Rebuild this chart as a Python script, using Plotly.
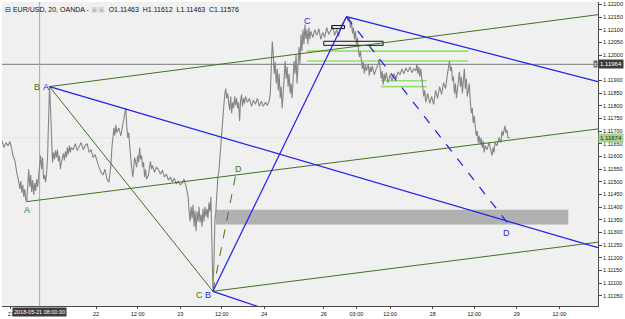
import plotly.graph_objects as go

# ---------------- data ----------------
bar = [0, 2, 4, 6, 8, 10, 12, 13, 15, 16, 17, 19, 20, 21, 22, 23, 24, 25, 26, 27, 28, 29, 30, 31, 32, 33, 34, 35, 36, 37, 38, 39,
       40, 41, 42, 43, 44, 45, 46, 47, 48, 49, 50, 51, 52, 53, 54, 55, 56, 57, 58, 59, 60, 61, 62, 63, 64, 65, 66, 67, 68, 69,
       70, 71, 72, 74, 76, 78, 80, 82, 84, 86, 88, 90, 92, 94, 96, 98, 100, 102, 104, 106, 108, 110, 112, 113, 114, 115, 116,
       117, 118, 120, 122, 124, 125, 126, 127, 128, 129, 130, 131, 132, 133, 134, 135, 136, 138, 139, 140, 141, 142, 143, 144,
       145, 146, 147, 148, 150, 151, 152, 153, 154, 156, 158, 160, 162, 164, 166, 168, 170, 172, 174, 176, 178, 180, 182, 184,
       186, 188, 190, 191, 192, 193, 194, 195, 196, 197, 198, 199, 200, 201, 202, 203, 204, 205, 206, 207, 208, 209, 210, 211,
       212, 213, 214, 215, 216, 217, 218, 219, 220, 221, 222, 223, 224, 225, 226, 227, 228, 229, 230, 231, 232, 233, 234, 235,
       236, 237, 238, 239, 240, 241, 242, 243, 244, 245, 246, 247, 248, 250, 252, 254, 256, 258, 260, 262, 264, 266, 268, 270,
       272, 273, 274, 275, 276, 277, 278, 279, 280, 281, 282, 283, 284, 285, 286, 287, 288, 289, 290, 291, 292, 293, 294, 295,
       296, 297, 298, 299, 300, 301, 302, 303, 304, 305, 306, 307, 308, 309, 310, 311, 312, 313, 314, 316, 318, 320, 322, 324,
       326, 328, 330, 332, 334, 336, 338, 340, 342, 344, 346, 348, 350, 352, 353, 354, 355, 356, 357, 358, 359, 360, 361, 362,
       363, 364, 365, 366, 367, 368, 369, 370, 372, 373, 374, 375, 376, 378, 380, 382, 383, 384, 385, 386, 387, 388, 389, 390,
       392, 394, 396, 398, 400, 402, 404, 406, 408, 410, 412, 414, 416, 418, 420, 421, 422, 423, 424, 425, 426, 427, 428, 429,
       430, 432, 434, 436, 438, 440, 442, 444, 446, 448, 450, 452, 453, 454, 455, 456, 457, 458, 459, 460, 461, 462, 463, 464,
       465, 466, 467, 468, 469, 470, 471, 472, 473, 474, 475, 476, 477, 478, 479, 480, 481, 482, 483, 484, 485, 486, 487, 488,
       489, 490, 492, 494, 496, 497, 498, 499, 500, 502, 504, 506, 507, 508, 510, 511, 512, 513, 515]

close = [1.11647, 1.11662, 1.11635, 1.11655, 1.11643, 1.11659, 1.11627, 1.11604, 1.11585, 1.11550, 1.11534, 1.11499,
         1.11472, 1.11503, 1.11457, 1.11488, 1.11441, 1.11472, 1.11429, 1.11422, 1.11499, 1.11550, 1.11480, 1.11527,
         1.11460, 1.11507, 1.11449, 1.11495, 1.11464, 1.11511, 1.11480, 1.11527,
         1.11565, 1.11604, 1.11550, 1.11596, 1.11511, 1.11527, 1.11499, 1.11534, 1.11596, 1.11752, 1.11876, 1.11791,
         1.11635, 1.11577, 1.11616, 1.11589, 1.11624, 1.11596, 1.11627, 1.11581, 1.11604, 1.11550, 1.11577, 1.11596,
         1.11612, 1.11585, 1.11620, 1.11596, 1.11635, 1.11608,
         1.11643, 1.11616, 1.11635, 1.11627, 1.11651, 1.11624, 1.11643, 1.11655, 1.11627, 1.11643, 1.11651, 1.11616,
         1.11627, 1.11596, 1.11608, 1.11577, 1.11558, 1.11538, 1.11527, 1.11550, 1.11511, 1.11499, 1.11565, 1.11635,
         1.11674, 1.11713, 1.11682,
         1.11725, 1.11694, 1.11713, 1.11682, 1.11732, 1.11744, 1.11783, 1.11791, 1.11721, 1.11674, 1.11694, 1.11627,
         1.11596, 1.11558, 1.11519, 1.11550, 1.11596, 1.11558, 1.11604, 1.11577, 1.11635, 1.11589, 1.11604, 1.11558,
         1.11577, 1.11519, 1.11550, 1.11511, 1.11527, 1.11558, 1.11581, 1.11550, 1.11565, 1.11538, 1.11558, 1.11550,
         1.11530, 1.11546, 1.11519, 1.11530, 1.11507, 1.11519, 1.11499, 1.11515, 1.11492, 1.11503, 1.11488, 1.11495,
         1.11511, 1.11480, 1.11441, 1.11383, 1.11344, 1.11402, 1.11356, 1.11410, 1.11324, 1.11387, 1.11305, 1.11383,
         1.11344, 1.11402, 1.11340, 1.11371, 1.11324, 1.11394, 1.11344, 1.11402, 1.11363, 1.11394, 1.11356, 1.11418,
         1.11383, 1.11441, 1.11286, 1.11080, 1.11169, 1.11344, 1.11383, 1.11460, 1.11519, 1.11538, 1.11596, 1.11655,
         1.11721, 1.11752, 1.11798, 1.11845, 1.11868, 1.11830, 1.11849, 1.11810, 1.11783, 1.11837, 1.11771, 1.11814,
         1.11791, 1.11837, 1.11802, 1.11830, 1.11791, 1.11814, 1.11740, 1.11822, 1.11845, 1.11798, 1.11830, 1.11810,
         1.11837, 1.11814, 1.11830, 1.11798, 1.11822, 1.11806, 1.11830, 1.11798, 1.11818, 1.11798, 1.11814, 1.11802,
         1.11822, 1.11849, 1.11927, 1.12055, 1.12004, 1.11927, 1.11973, 1.11888, 1.11946, 1.11861, 1.11927, 1.11830,
         1.11876, 1.11791, 1.11849, 1.11915, 1.11977, 1.11907, 1.11954, 1.11876, 1.11927, 1.11849, 1.11888, 1.11830,
         1.11907, 1.11977, 1.11927, 1.12004, 1.11888, 1.11985, 1.12032, 1.11965, 1.12082, 1.12016, 1.12101, 1.12043,
         1.12121, 1.12063, 1.12101, 1.12043, 1.12109, 1.12063, 1.12094, 1.12070, 1.12101, 1.12078, 1.12105, 1.12063,
         1.12090, 1.12070, 1.12109, 1.12082, 1.12101, 1.12113, 1.12078, 1.12101, 1.12074, 1.12109, 1.12125, 1.12140,
         1.12152, 1.12133, 1.12148, 1.12109, 1.12133, 1.12086, 1.12109, 1.12063, 1.12094, 1.12043, 1.12070, 1.12024,
         1.11993, 1.12016, 1.11977, 1.11946, 1.11973, 1.11927, 1.11962, 1.11938, 1.11965, 1.11919, 1.11954, 1.11934,
         1.11958, 1.11923, 1.11946, 1.11965, 1.11985, 1.11938, 1.11907, 1.11938, 1.11884, 1.11927, 1.11899, 1.11931,
         1.11892, 1.11923, 1.11899, 1.11927, 1.11907, 1.11934, 1.11923, 1.11946, 1.11927, 1.11950, 1.11934, 1.11954,
         1.11931, 1.11946, 1.11938, 1.11965, 1.11927, 1.11954, 1.11915, 1.11946, 1.11899, 1.11868, 1.11837, 1.11861,
         1.11814, 1.11849, 1.11810, 1.11837, 1.11806, 1.11861, 1.11830, 1.11876, 1.11845, 1.11892, 1.11868, 1.11927,
         1.11962, 1.11977, 1.11938, 1.11954, 1.11899, 1.11915, 1.11849, 1.11888, 1.11830, 1.11868, 1.11907, 1.11934,
         1.11876, 1.11915, 1.11849, 1.11927, 1.11946, 1.11868, 1.11907, 1.11837, 1.11861, 1.11888, 1.11818, 1.11771,
         1.11791, 1.11732, 1.11760, 1.11713, 1.11682, 1.11701, 1.11655, 1.11682, 1.11647, 1.11674, 1.11635, 1.11662,
         1.11616, 1.11643, 1.11627, 1.11655, 1.11616, 1.11604, 1.11635, 1.11616, 1.11655, 1.11643, 1.11674, 1.11655,
         1.11701, 1.11682, 1.11721, 1.11694, 1.11705, 1.11674, 1.11674]

# time-axis labels (bar positions)
tick_pos = [11, 97, 139, 182, 224, 267, 327, 360, 394, 437, 479, 522, 565]
tick_txt = ["21", "22", "12:00", "23", "12:00", "24", "26", "03:00", "12:00", "28", "12:00", "29", "12:00"]
price_ticks = [1.1105, 1.1110, 1.1115, 1.1120, 1.1125, 1.1130, 1.1135, 1.1140, 1.1145, 1.1150, 1.1155, 1.1160,
               1.1165, 1.1170, 1.1175, 1.1180, 1.1185, 1.1190, 1.1195, 1.1200, 1.1205, 1.1210, 1.1215, 1.1220]
hidden_tick = 1.1195  # covered by the bid-price box in the reference

# harmonic pattern points (bar, price)
green_lbl = ["A", "B", "C", "D"]
green_x = [27, 50, 215, 238]
green_y = [1.11422, 1.11876, 1.11068, 1.11527]
blue_lbl = ["A", "B", "C", "D"]
blue_x = [50, 215, 350, 513]
blue_y = [1.11876, 1.11068, 1.12152, 1.11336]

# channel / trend lines: (x0, y0, x1, y1)
green_lines = [(27, 1.11422, 604, 1.11709), (50, 1.11876, 604, 1.12160), (215, 1.11068, 604, 1.11262),
               (50, 1.11876, 215, 1.11068)]
blue_lines = [(50, 1.11876, 604, 1.11240), (215, 1.11068, 350, 1.12152), (350, 1.12152, 604, 1.11896),
              (215, 1.11068, 268, 1.10998)]
lime_levels = [(310, 473, 1.12016), (310, 473, 1.11977), (385, 431, 1.11899), (385, 431, 1.11876)]
black_boxes = [(335, 348, 1.12105, 1.12117), (327, 387, 1.12039, 1.12055)]
gray_zone = (218, 574, 1.11332, 1.11390)

bid_price = 1.11964
mark_price = 1.11674
cross_bar = 40
cross_label = "2018-05-21 08:00:00"
header = "⊟ EUR/USD, 20, OANDA - <span style='color:#c0c0c0'>▣▣</span>  O1.11463  H1.11612  L1.11463  C1.11576"

GREEN = "#3f7420"
BLUE = "#1f1fee"
XR = [2, 604]
YR = [1.11010, 1.12210]

fig = go.Figure()

# gray zone
gx0, gx1, gy0, gy1 = gray_zone
fig.add_shape(type="rect", x0=gx0, x1=gx1, y0=gy0, y1=gy1, xref="x", yref="y",
              fillcolor="rgba(150,150,150,0.7)", line=dict(width=0), layer="below")

# horizontal price lines
fig.add_trace(go.Scatter(x=XR, y=[mark_price] * 2, mode="lines", line=dict(color="#dfe8da", width=1), hoverinfo="skip"))
fig.add_trace(go.Scatter(x=XR, y=[bid_price] * 2, mode="lines", line=dict(color="#7a7a7a", width=1), hoverinfo="skip"))
# crosshair vertical
fig.add_trace(go.Scatter(x=[cross_bar] * 2, y=YR, mode="lines", line=dict(color="#a8a8a8", width=1), hoverinfo="skip"))

# lime levels
for x0, x1, yv in lime_levels:
    fig.add_trace(go.Scatter(x=[x0, x1], y=[yv, yv], mode="lines", line=dict(color="#92e36f", width=1.6), hoverinfo="skip"))

# price series
fig.add_trace(go.Scatter(x=bar, y=close, mode="lines", line=dict(color="#858585", width=1.1), hoverinfo="skip"))

# black boxes
for x0, x1, y0, y1 in black_boxes:
    fig.add_trace(go.Scatter(x=[x0, x1, x1, x0, x0], y=[y0, y0, y1, y1, y0], mode="lines",
                             line=dict(color="#111111", width=1), hoverinfo="skip"))

# green lines
for x0, y0, x1, y1 in green_lines:
    fig.add_trace(go.Scatter(x=[x0, x1], y=[y0, y1], mode="lines", line=dict(color=GREEN, width=1), hoverinfo="skip"))
fig.add_trace(go.Scatter(x=[green_x[2], green_x[3]], y=[green_y[2], green_y[3]], mode="lines",
                         line=dict(color=GREEN, width=1, dash="dash"), hoverinfo="skip"))

# blue lines
for x0, y0, x1, y1 in blue_lines:
    fig.add_trace(go.Scatter(x=[x0, x1], y=[y0, y1], mode="lines", line=dict(color=BLUE, width=1.2), hoverinfo="skip"))
fig.add_trace(go.Scatter(x=[blue_x[2], blue_x[3]], y=[blue_y[2], blue_y[3]], mode="lines",
                         line=dict(color=BLUE, width=1.2, dash="dash"), hoverinfo="skip"))

# point labels
green_off = [(0, -8), (-13, 0), (-13, -4), (3, 6)]
blue_off = [(-4, 0), (-5, -4), (-39, -4), (-1, -10)]
for lbl, x, y, (dx, dy) in zip(green_lbl, green_x, green_y, green_off):
    fig.add_annotation(x=x, y=y, text=lbl, showarrow=False, xshift=dx, yshift=dy,
                       font=dict(color=GREEN, size=9, family="Liberation Sans"))
for lbl, x, y, (dx, dy) in zip(blue_lbl, blue_x, blue_y, blue_off):
    fig.add_annotation(x=x, y=y, text=lbl, showarrow=False, xshift=dx, yshift=dy,
                       font=dict(color=BLUE, size=9, family="Liberation Sans"))

# header
fig.add_annotation(xref="paper", yref="paper", x=0, y=1, xanchor="left", yanchor="top", xshift=1, yshift=-2,
                   text=header, showarrow=False, font=dict(size=7, color="#111", family="Liberation Sans"))

# axis labels: price boxes
fig.add_annotation(xref="paper", yref="y", x=1, y=bid_price, xanchor="left", text="1.11964", showarrow=False,
                   bgcolor="#3c3c3c", borderpad=1, font=dict(size=6, color="white", family="Liberation Sans"))
fig.add_annotation(xref="paper", yref="y", x=1, y=bid_price, xanchor="right", text="≡", showarrow=False,
                   bgcolor="#6a6a6a", borderpad=0, font=dict(size=5, color="white", family="Liberation Sans"))
fig.add_annotation(xref="paper", yref="y", x=1, y=mark_price, xanchor="left", text="1.11674", showarrow=False,
                   bgcolor="#a9d28f", borderpad=1, font=dict(size=6, color="#222", family="Liberation Sans"))
fig.add_annotation(xref="x", yref="paper", x=cross_bar, y=0, yanchor="top", text=cross_label, showarrow=False,
                   bgcolor="#3c3c3c", borderpad=1, yshift=-1, font=dict(size=5.5, color="white", family="Liberation Sans"))

fig.update_layout(
    width=625, height=319, margin=dict(l=2, r=21, t=2, b=8),
    paper_bgcolor="white", plot_bgcolor="#f0f0f0", showlegend=False,
    xaxis=dict(range=XR, tickvals=tick_pos, ticktext=tick_txt, showgrid=False, zeroline=False,
               showline=True, linecolor="#4a4a4a", linewidth=1, ticks="outside", ticklen=2, tickcolor="#4a4a4a",
               tickfont=dict(size=5.5, color="#111", family="Liberation Sans")),
    yaxis=dict(range=YR, side="right", tickvals=price_ticks,
               ticktext=["" if abs(v - hidden_tick) < 1e-9 else f"{v:.5f}" for v in price_ticks],
               showgrid=False, zeroline=False, showline=True, linecolor="#4a4a4a", linewidth=1,
               ticks="outside", ticklen=3, tickcolor="#4a4a4a",
               tickfont=dict(size=5.5, color="#111", family="Liberation Sans")),
)

fig.write_html("out.html")
